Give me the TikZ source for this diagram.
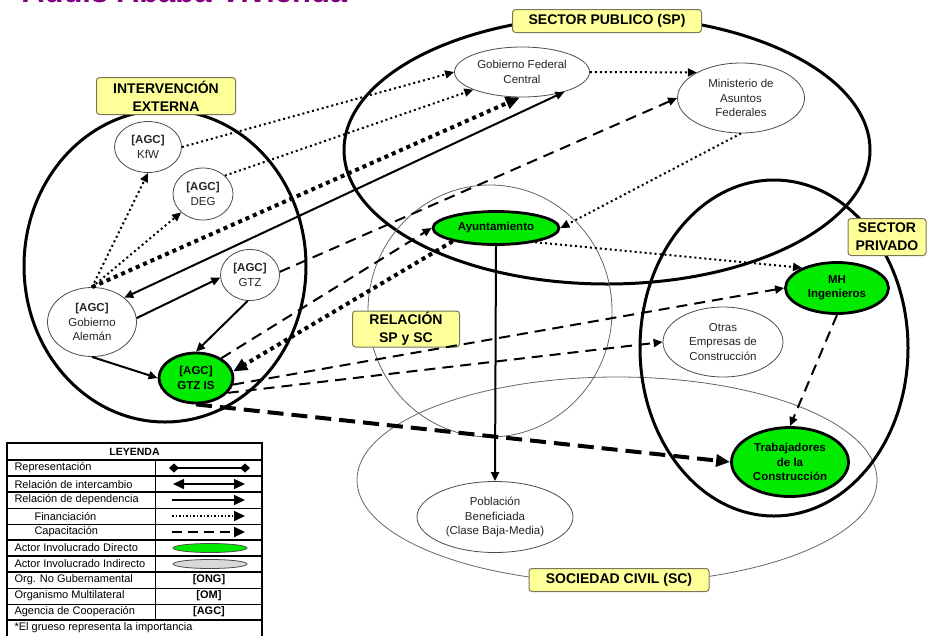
\documentclass[tikz,border=0pt]{standalone}
\usepackage{fontspec}
\setmainfont{Liberation Sans}
\usetikzlibrary{arrows.meta, calc, positioning, shapes.geometric}

\definecolor{actorgreen}{RGB}{0,235,0}
\definecolor{tagyellow}{RGB}{255,255,153}
\definecolor{tagframe}{RGB}{120,120,90}
\definecolor{titlepurple}{RGB}{128,0,128}

\begin{document}
\begin{tikzpicture}[x=1pt, y=-1pt,
	ring/.style={line width=3pt},
	softring/.style={draw=black!60, line width=0.8pt},
	tag/.style={rectangle, draw=tagframe, fill=tagyellow, rounded corners=3pt, line width=1pt, inner sep=0pt, align=center, font=\fontsize{14}{18}\selectfont\bfseries},
	actor/.style={ellipse, draw=black!70, line width=0.8pt, fill=white, inner sep=0pt, align=center, text=black!85, font=\fontsize{11.5}{14.5}\selectfont},
	keyactor/.style={actor, draw=black, line width=2.8pt, fill=actorgreen, text=black, font=\fontsize{11.5}{14.5}\selectfont\bfseries},
	depend/.style={line width=2pt, -{Triangle[length=9pt,width=8pt]}},
	trade/.style={line width=2pt, {Triangle[length=9pt,width=8pt]}-{Triangle[length=9pt,width=8pt]}},
	fund/.style={line width=2pt, dash pattern=on 2pt off 3pt, -{Triangle[length=9pt,width=8pt]}},
	fundbig/.style={line width=4pt, dash pattern=on 4pt off 4pt, -{Triangle[length=14pt,width=12pt]}},
	teach/.style={line width=2pt, dash pattern=on 11pt off 7pt, -{Triangle[length=9pt,width=8pt]}},
	teachbig/.style={line width=4pt, dash pattern=on 16pt off 8pt, -{Triangle[length=14pt,width=12pt]}},
	legtext/.style={anchor=west, font=\fontsize{11}{13}\selectfont},
	]
	\useasboundingbox (0,0) rectangle (934,635);
	
	% title, cut by the top edge
	\node[anchor=base west, inner sep=0pt, text=titlepurple, font=\fontsize{31}{36}\selectfont\bfseries] (title) at (22,2) {Addis Ababa Vivienda};
	
	% sectors
	\draw[ring] (165,266) ellipse [x radius=141, y radius=156];
	\draw[ring] (607,150) ellipse [x radius=263, y radius=134];
	\draw[softring] (490,311) ellipse [x radius=122, y radius=126];
	\draw[softring] (617,480) ellipse [x radius=260, y radius=103];
	\draw[ring] (774,348) ellipse [x radius=134, y radius=168];
	
	\node[tag, minimum width=139pt, minimum height=37pt] (tagext)  at (166,96)  {INTERVENCIÓN\\EXTERNA};
	\node[tag, minimum width=189pt, minimum height=23pt] (tagsp)   at (607,21)  {SECTOR PUBLICO (SP)};
	\node[tag, minimum width=107pt, minimum height=36pt] (tagrel)  at (406,329) {RELACIÓN\\SP y SC};
	\node[tag, minimum width=78pt,  minimum height=37pt] (tagpriv) at (887,237) {SECTOR\\PRIVADO};
	\node[tag, minimum width=180pt, minimum height=23pt] (tagsc)   at (619,580) {SOCIEDAD CIVIL (SC)};
	
	% actors
	\node[actor, minimum width=67pt,  minimum height=51pt] (kfw)    at (148,147) {\textbf{[AGC]}\\KfW};
	\node[actor, minimum width=60pt,  minimum height=52pt] (deg)    at (203,194) {\textbf{[AGC]}\\DEG};
	\node[actor, minimum width=89pt,  minimum height=69pt] (aleman) at (92,322)  {\textbf{[AGC]}\\Gobierno\\Alemán};
	\node[actor, minimum width=59pt,  minimum height=51pt] (gtz)    at (250,275) {\textbf{[AGC]}\\GTZ};
	\node[keyactor, minimum width=74pt, minimum height=50pt] (gtzis) at (196,378) {[AGC]\\GTZ IS};
	\node[actor, minimum width=135pt, minimum height=50pt] (gobfed) at (522,72)  {Gobierno Federal\\Central};
	\node[actor, minimum width=127pt, minimum height=70pt] (minaf)  at (741,98)  {Ministerio de\\Asuntos\\Federales};
	\node[keyactor, minimum width=126pt, minimum height=33pt] (ayto) at (496,228) {Ayuntamiento};
	\node[keyactor, minimum width=103pt, minimum height=51pt] (mhing) at (837,288) {MH\\Ingenieros};
	\node[actor, minimum width=120pt, minimum height=70pt] (otras)  at (723,342) {Otras\\Empresas de\\Construcción};
	\node[keyactor, minimum width=117pt, minimum height=69pt] (trab) at (790,462) {Trabajadores\\de la\\Construcción};
	\node[actor, minimum width=156pt, minimum height=71pt] (pobl)   at (495,517) {Población\\Beneficiada\\(Clase Baja-Media)};
	
	% relations
	\draw[fund] (aleman.north) -- (kfw.south);
	\draw[fund] (aleman.north) -- (deg.220);
	\draw[fundbig] (aleman.north) -- (gobfed.265);
	\draw[fund] (kfw.east) -- (gobfed.west);
	\draw[fund] (deg.40) -- (gobfed.200);
	\draw[trade] (aleman.37) -- (gobfed.335);
	\draw[depend] (aleman.5) -- (gtz.185);
	\draw[depend] (gtz.265) -- (gtzis.north);
	\draw[depend] (aleman.south) -- (gtzis.west);
	\draw[fund] (gobfed.east) -- (minaf.150);
	\draw[teach] (gtz.6) -- (minaf.west);
	\draw[teach] (gtzis.38) -- (ayto.west);
	\draw[fundbig] (ayto.197) -- (gtzis.10);
	\draw[fund] (minaf.south) -- (ayto.east);
	\draw[fund] (ayto.340) -- (mhing.150);
	\draw[depend] (ayto.south) -- (pobl.north);
	\draw[teach] (gtzis.350) -- (mhing.west);
	\draw[teach] (gtzis.335) -- (otras.west);
	\draw[teachbig] (gtzis.south) -- (trab.west);
	\draw[teach] (mhing.south) -- (trab.north);
	
	% legend
	\draw[line width=1.5pt, fill=white] (7,443) rectangle (262,640);
	\foreach \y in {460,476,492,540,556,572,620}
		\draw[line width=2pt] (7,\y) -- (262,\y);
	\foreach \y in {508,524,588,604}
		\draw[line width=1pt] (7,\y) -- (262,\y);
	\draw[line width=1pt] (155,460) -- (155,620);
	
	\node[font=\fontsize{10.5}{12}\selectfont\bfseries] (leghead) at (134.5,451.5) {LEYENDA};
	\node[legtext] (legrep)  at (11,468) {Representación};
	\node[legtext] (legtrd)  at (11,484) {Relación de intercambio};
	\node[legtext] (legdep)  at (11,500) {Relación de dependencia};
	\node[legtext] (legfund) at (31,516) {Financiación};
	\node[legtext] (legtch)  at (31,532) {Capacitación};
	\node[legtext] (legdir)  at (11,548) {Actor Involucrado Directo};
	\node[legtext] (legind)  at (11,564) {Actor Involucrado Indirecto};
	\node[legtext] (legong)  at (11,580) {Org. No Gubernamental};
	\node[legtext] (legom)   at (11,596) {Organismo Multilateral};
	\node[legtext] (legagc)  at (11,612) {Agencia de Cooperación};
	\node[legtext] (legnote) at (11,628) {*El grueso representa la importancia};
	
	\coordinate (repA) at (169,468); \coordinate (repB) at (250,468);
	\coordinate (trdA) at (173,484); \coordinate (trdB) at (245,484);
	\coordinate (depA) at (172,500); \coordinate (depB) at (245,500);
	\coordinate (fndA) at (172,516); \coordinate (fndB) at (245,516);
	\coordinate (tchA) at (172,532); \coordinate (tchB) at (245,532);
	\draw[line width=1.5pt, {Diamond[length=10pt,width=9pt]}-{Diamond[length=10pt,width=9pt]}] (repA) -- (repB);
	\draw[line width=1.5pt, {Triangle[length=11pt,width=10pt]}-{Triangle[length=11pt,width=10pt]}] (trdA) -- (trdB);
	\draw[line width=1.5pt, -{Triangle[length=11pt,width=10pt]}] (depA) -- (depB);
	\draw[line width=1.5pt, dash pattern=on 1.5pt off 2pt, -{Triangle[length=11pt,width=10pt]}] (fndA) -- (fndB);
	\draw[line width=2pt, dash pattern=on 10pt off 6pt, -{Triangle[length=11pt,width=10pt]}] (tchA) -- (tchB);
	\node[ellipse, draw=black!70, line width=0.8pt, fill=actorgreen, minimum width=74pt, minimum height=9pt, inner sep=0pt] (symdir) at (210,548) {};
	\node[ellipse, draw=black!70, line width=0.8pt, fill=black!15, minimum width=74pt, minimum height=9pt, inner sep=0pt] (symind) at (210,564) {};
	\node[font=\fontsize{11}{13}\selectfont\bfseries] (symong) at (209,580) {[ONG]};
	\node[font=\fontsize{11}{13}\selectfont\bfseries] (symom)  at (209,596) {[OM]};
	\node[font=\fontsize{11}{13}\selectfont\bfseries] (symagc) at (209,612) {[AGC]};
\end{tikzpicture}
\end{document}
